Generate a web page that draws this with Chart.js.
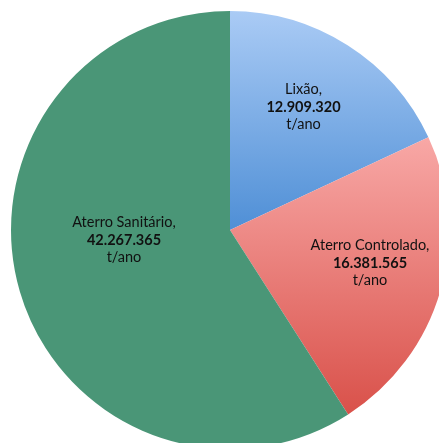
<!DOCTYPE html>
<html>
<head>
<meta charset="utf-8">
<script src="https://cdn.jsdelivr.net/npm/chart.js@4.4.1/dist/chart.umd.min.js"></script>
<style>
  html, body { margin: 0; padding: 0; background: #fff; overflow: hidden; }
  #wrap { position: absolute; left: 0; top: 0; width: 460px; height: 460px; }
</style>
</head>
<body>
<div id="wrap"><canvas id="myChart" width="460" height="460"></canvas></div>
<script>
// destinação dos resíduos (t/ano)
const categorias = ['Lixão', 'Aterro Controlado', 'Aterro Sanitário'];
const toneladas = [12909320, 16381565, 42267365];
const unidade = 't/ano';

// cores: topo -> base de cada fatia
const corTopo = ['#aacbf5', '#f8a8a6', '#4a9677'];
const corBase = ['#4f8fd6', '#d9514a', '#4a9677'];
// linha de base da primeira linha de cada rótulo (px)
const posRotulo = [[303.5, 94], [370, 250], [124, 227]];

function formata(n) {
  return String(n).replace(/\B(?=(\d{3})+(?!\d))/g, '.');
}

// faixa vertical ocupada por cada fatia, para montar o degradê
function faixaY(chart, i) {
  const a = chart.chartArea;
  const cx = (a.left + a.right) / 2, cy = (a.top + a.bottom) / 2;
  const r = Math.min(a.right - a.left, a.bottom - a.top) / 2;
  const total = toneladas.reduce((s, v) => s + v, 0);
  let ini = 0;
  for (let k = 0; k < i; k++) ini += toneladas[k] / total * 2 * Math.PI;
  const fim = ini + toneladas[i] / total * 2 * Math.PI;
  const ys = [cy, cy - r * Math.cos(ini), cy - r * Math.cos(fim)];
  if (ini <= 0) ys.push(cy - r);
  if (ini <= Math.PI && fim >= Math.PI) ys.push(cy + r);
  return [Math.min(...ys), Math.max(...ys)];
}

const rotulos = {
  id: 'rotulos',
  afterDatasetsDraw(chart) {
    const ctx = chart.ctx;
    const passo = 17.5;
    ctx.save();
    ctx.fillStyle = '#111';
    ctx.textAlign = 'center';
    ctx.textBaseline = 'alphabetic';
    categorias.forEach((c, i) => {
      const [x, y] = posRotulo[i];
      ctx.font = '14.5px Lato';
      ctx.fillText(c + ',', x, y);
      ctx.font = 'bold 14.5px Lato';
      ctx.fillText(formata(toneladas[i]), x, y + passo);
      ctx.font = '14.5px Lato';
      ctx.fillText(unidade, x, y + passo * 2);
    });
    ctx.restore();
  }
};

const ctx = document.getElementById('myChart').getContext('2d');
const myChart = new Chart(ctx, {
  type: 'pie',
  data: {
    labels: categorias,
    datasets: [{
      data: toneladas,
      backgroundColor: function (context) {
        const chart = context.chart;
        const i = context.dataIndex;
        if (!chart.chartArea || i === undefined) return corBase[i] || corBase[0];
        const [y0, y1] = faixaY(chart, i);
        const g = chart.ctx.createLinearGradient(0, y0, 0, y1);
        g.addColorStop(0, corTopo[i]);
        g.addColorStop(1, corBase[i]);
        return g;
      },
      borderWidth: 0
    }]
  },
  options: {
    responsive: false,
    animation: false,
    layout: { padding: 11 },
    plugins: {
      legend: { display: false },
      tooltip: { enabled: false }
    }
  },
  plugins: [rotulos]
});
</script>
</body>
</html>
